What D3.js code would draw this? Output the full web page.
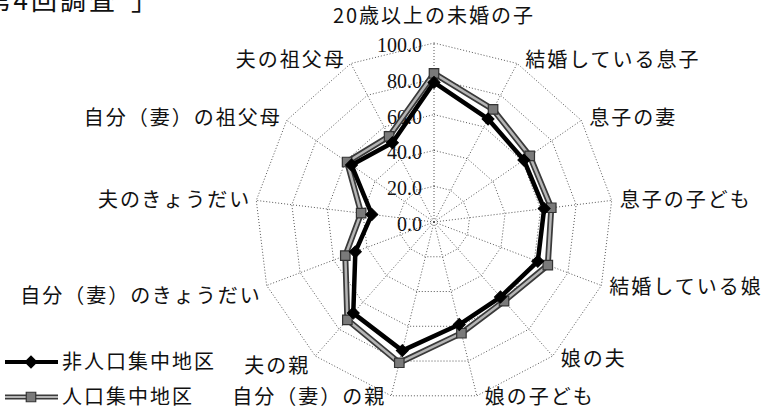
<!DOCTYPE html>
<html>
<head>
<meta charset="utf-8">
<script src="https://cdn.jsdelivr.net/npm/d3@7"></script>
<style>
  body { margin: 0; background: #fff; }
  svg { display: block; }
  text { fill: #111; }
</style>
</head>
<body>
<svg id="chart" width="768" height="412"></svg>
<script>
/*
** Data
*/
var categories = [
      "20歳以上の未婚の子", "結婚している息子", "息子の妻", "息子の子ども"
    , "結婚している娘", "娘の夫", "娘の子ども", "自分（妻）の親", "夫の親"
    , "自分（妻）のきょうだい", "夫のきょうだい", "自分（妻）の祖父母", "夫の祖父母"
  ]
  , seriesNames = ["非人口集中地区", "人口集中地区"]
  , nonDid = [78, 65, 61, 62, 62, 56, 59, 74, 68, 47, 35, 56, 50]
  , did    = [83, 71, 65, 66, 68, 59, 64, 81, 73, 53, 41, 59, 54]
  , ticks  = [0, 20, 40, 60, 80, 100]
  , caption = "第4回調査"
;

function RadarChart() {
  /*
  ** Private Variables
  */
  var svg
    , data
    , labels
    , tickValues
    , cx = 434
    , cy = 222
    , radius = 179
    , r = d3.scaleLinear()
    , angle = d3.scaleLinear()
    , jpFont = "'Noto Sans CJK JP', sans-serif"
  ;

  /*
  ** Main Function Object
  */
  function my() {
      r.domain([0, 100]).range([0, radius]);
      angle.domain([0, labels.length]).range([0, 2 * Math.PI]);

      var g = svg.append("g")
          .attr("transform", "translate(" + cx + "," + cy + ")")
      ;
      g.append("g").call(gridRender);
      g.append("g").call(ticksRender);
      g.append("g").call(labelsRender);
      g.append("g").call(seriesRender);
      svg.append("g").call(legendRender);

      // caption cut by the top edge, as in the scan
      svg.append("text")
          .attr("x", 118).attr("y", 10)
          .attr("text-anchor", "end")
          .style("font-family", jpFont).style("font-size", "26px")
          .style("letter-spacing", "3px")
          .text(caption)
      ;
      svg.append("text")
          .attr("x", 131).attr("y", 10)
          .style("font-family", jpFont).style("font-size", "26px")
          .text("」")
      ;
  } // my() - Main function object

  /*
  ** Helper Functions
  */
  function radial(v) {
      return d3.lineRadial()
          .angle(function(d, i) { return angle(i); })
          .radius(function(d) { return r(v === undefined ? d : v); })
          .curve(d3.curveLinearClosed)
      ;
  } // radial()

  function point(v, i) {
      return [r(v) * Math.sin(angle(i)), -r(v) * Math.cos(angle(i))];
  } // point()

  function gridRender(selection) {
      selection.selectAll(".ring")
          .data(tickValues.filter(function(t) { return t > 0; }))
        .enter().append("path")
          .attr("d", function(t) { return radial(t)(labels); })
          .attr("fill", "none")
          .attr("stroke", "#555")
          .attr("stroke-width", 1)
          .attr("stroke-dasharray", "1 2")
      ;
      selection.selectAll(".spoke")
          .data(labels)
        .enter().append("line")
          .attr("x2", function(d, i) { return point(100, i)[0]; })
          .attr("y2", function(d, i) { return point(100, i)[1]; })
          .attr("stroke", "#555")
          .attr("stroke-width", 1)
          .attr("stroke-dasharray", "1 2")
      ;
  } // gridRender()

  function ticksRender(selection) {
      selection.selectAll("text")
          .data(tickValues)
        .enter().append("text")
          .attr("x", -12)
          .attr("y", function(t) { return -r(t) + 2; })
          .attr("dy", "0.35em")
          .attr("text-anchor", "end")
          .style("font-family", "'Liberation Serif', serif")
          .style("font-size", "20px")
          .text(function(t) { return d3.format(".1f")(t); })
      ;
  } // ticksRender()

  function labelsRender(selection) {
      selection.selectAll("text")
          .data(labels)
        .enter().append("text")
          .each(function(d, i) {
              var self = d3.select(this)
                , s = Math.sin(angle(i))
                , c = Math.cos(angle(i))
                , p = point(100, i)
                , side = Math.abs(s) < 0.01 ? 0 : (s > 0 ? 1 : -1)
                , drop = (s < -0.5 && c < 0) ? 10 * Math.abs(s) : 0
                , y = side === 0 ? p[1] - 27 : p[1] - 4 * c + drop
              ;
              self
                  .attr("x", p[0] + side * (side < 0 ? 5 : 8))
                  .attr("y", Math.min(y, 175))
                  .attr("dy", "0.35em")
                  .attr("text-anchor", side === 0 ? "middle" : (side > 0 ? "start" : "end"))
              ;
            })
          .style("font-family", jpFont)
          .style("font-size", "20px")
          .style("letter-spacing", "2px")
          .text(function(d) { return d; })
      ;
  } // labelsRender()

  function markerDiamond(selection) {
      selection
          .attr("d", d3.symbol(d3.symbolSquare, 72))
          .attr("fill", "#000")
          .attr("stroke", "#000")
      ;
  } // markerDiamond()

  function markerSquare(selection) {
      selection
          .attr("d", d3.symbol(d3.symbolSquare, 90))
          .attr("fill", "#7a7a7a")
          .attr("stroke", "#333")
          .attr("stroke-width", 1.2)
      ;
  } // markerSquare()

  function seriesRender(selection) {
      var grey = selection.append("g")
        , black = selection.append("g")
      ;
      grey.append("path")
          .attr("d", radial()(data[1]))
          .attr("fill", "none").attr("stroke", "#3a3a3a").attr("stroke-width", 6)
      ;
      grey.append("path")
          .attr("d", radial()(data[1]))
          .attr("fill", "none").attr("stroke", "#b5b5b5").attr("stroke-width", 2.5)
      ;
      grey.selectAll(".m")
          .data(data[1])
        .enter().append("path")
          .attr("transform", function(d, i) { return "translate(" + point(d, i) + ")"; })
          .call(markerSquare)
      ;
      black.append("path")
          .attr("d", radial()(data[0]))
          .attr("fill", "none").attr("stroke", "#000").attr("stroke-width", 4.5)
          .attr("stroke-linejoin", "round")
      ;
      black.selectAll(".m")
          .data(data[0])
        .enter().append("path")
          .attr("transform", function(d, i) {
              return "translate(" + point(d, i) + ") rotate(45)";
            })
          .call(markerDiamond)
      ;
  } // seriesRender()

  function legendRender(selection) {
      var row = selection.selectAll("g")
          .data(seriesNames)
        .enter().append("g")
          .attr("transform", function(d, i) { return "translate(0," + (362 + i * 35) + ")"; })
      ;
      row.filter(function(d, i) { return i === 1; })
          .append("line").attr("x1", 5).attr("x2", 58)
          .attr("stroke", "#3a3a3a").attr("stroke-width", 5)
      ;
      row.filter(function(d, i) { return i === 1; })
          .append("line").attr("x1", 5).attr("x2", 58)
          .attr("stroke", "#b5b5b5").attr("stroke-width", 2)
      ;
      row.filter(function(d, i) { return i === 1; })
          .append("path").attr("transform", "translate(31,0)")
          .call(markerSquare)
      ;
      row.filter(function(d, i) { return i === 0; })
          .append("line").attr("x1", 5).attr("x2", 58)
          .attr("stroke", "#000").attr("stroke-width", 4)
      ;
      row.filter(function(d, i) { return i === 0; })
          .append("path").attr("transform", "translate(31,0) rotate(45)")
          .call(markerDiamond)
      ;
      row.append("text")
          .attr("x", 62)
          .attr("dy", "0.35em")
          .style("font-family", jpFont)
          .style("font-size", "20px")
          .style("letter-spacing", "2px")
          .text(function(d) { return d; })
      ;
  } // legendRender()

  /*
  ** API (Getter/Setter) Functions
  */
  my.svg = function(_) {
      if(!arguments.length) return svg;
      svg = _;
      return my;
    } // my.svg()
  ;
  my.data = function(_) {
      if(!arguments.length) return data;
      data = _;
      return my;
    } // my.data()
  ;
  my.labels = function(_) {
      if(!arguments.length) return labels;
      labels = _;
      return my;
    } // my.labels()
  ;
  my.ticks = function(_) {
      if(!arguments.length) return tickValues;
      tickValues = _;
      return my;
    } // my.ticks()
  ;

  // This is always the last thing returned
  return my;
} // RadarChart()

var chart = RadarChart()
    .svg(d3.select("#chart"))
    .labels(categories)
    .data([nonDid, did])
    .ticks(ticks)
;
chart();
</script>
</body>
</html>
